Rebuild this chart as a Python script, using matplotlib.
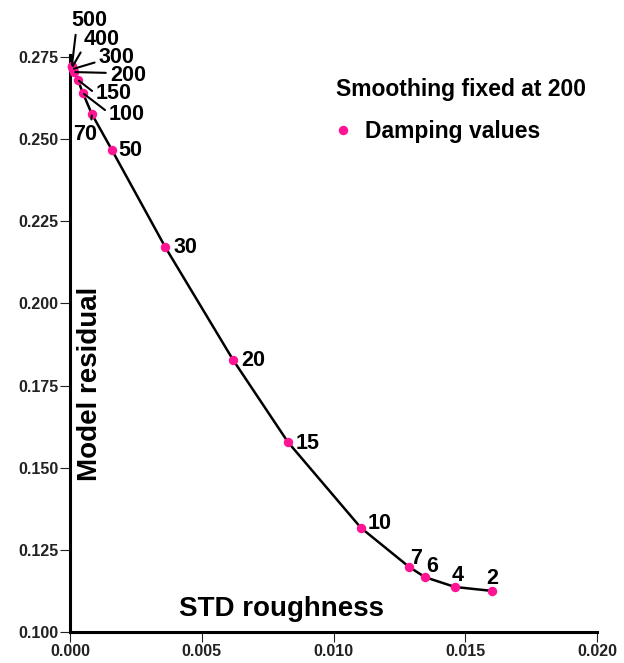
import matplotlib
matplotlib.use("Agg")
import matplotlib.pyplot as plt
from matplotlib.lines import Line2D

plt.rcParams['font.family'] = ['Liberation Sans', 'DejaVu Sans']
plt.rcParams['font.weight'] = 'bold'

# ---- data ----
damping = [500, 400, 300, 200, 150, 100, 70, 50, 30, 20, 15, 10, 7, 6, 4, 2]
std_roughness = [0.00007, 0.00008, 0.00010, 0.00015, 0.00030, 0.00049, 0.00083,
                 0.00159, 0.00361, 0.00619, 0.00827, 0.01104, 0.01287, 0.01347,
                 0.01461, 0.01602]
model_residual = [0.2722, 0.2719, 0.2713, 0.2704, 0.2680, 0.2640, 0.2576,
                  0.2467, 0.2172, 0.1828, 0.1578, 0.1317, 0.1198, 0.1167,
                  0.1137, 0.1125]
x_ticks = [0.000, 0.005, 0.010, 0.015, 0.020]
x_ticklabels = ['0.000', '0.005', '0.010', '0.015', '0.020']
y_ticks = [0.100, 0.125, 0.150, 0.175, 0.200, 0.225, 0.250, 0.275]
y_ticklabels = ['0.100', '0.125', '0.150', '0.175', '0.200', '0.225', '0.250', '0.275']
title_text = 'Smoothing fixed at 200'
legend_label = 'Damping values'

# label placement (offset pixels of label centre from point, leader relpos or None)
label_style = {
    500: ((17, 46), (0.15, 0.05)),
    400: ((30, 28), (0.0, 0.15)),
    300: ((44, 12), (0.0, 0.3)),
    200: ((54, -3), (0.0, 0.6)),
    150: ((36, -14), (0.0, 0.5)),
    100: ((44, -21), (0.0, 0.55)),
    70: ((-7, -20), (0.75, 0.9)),
    50: ((18, -1), None),
    30: ((20, -1), None),
    20: ((20, -1), None),
    15: ((20, -1), None),
    10: ((19, 4), None),
    7: ((7, 8), None),
    6: ((7, 11), None),
    4: ((3, 11), None),
    2: ((0, 12), None),
}

PINK = '#ff1493'

fig = plt.figure(figsize=(6.24, 6.63), dpi=100)
ax = fig.add_axes([70 / 624, 1 - 632 / 663, 527 / 624, (632 - 55.3) / 663])

ax.plot(std_roughness, model_residual, color='black', lw=1.8, zorder=2)
ax.plot(std_roughness, model_residual, linestyle='none', marker='o',
        markersize=6.8, color=PINK, markeredgewidth=0, zorder=3, clip_on=False)

for d, xv, yv in zip(damping, std_roughness, model_residual):
    (dx, dy), rel = label_style[d]
    kw = {}
    if rel is not None:
        kw['arrowprops'] = dict(arrowstyle='-', color='black', lw=1.5,
                                shrinkA=1, shrinkB=1, relpos=rel)
    ax.annotate(str(d), xy=(xv, yv), xytext=(dx, dy), textcoords='offset pixels',
                ha='center', va='center', fontsize=15.5, fontweight='bold',
                annotation_clip=False, **kw)

ax.set_xlim(0, 0.020)
ax.set_ylim(0.100, 0.2755)
ax.set_xticks(x_ticks)
ax.set_xticklabels(x_ticklabels)
ax.set_yticks(y_ticks)
ax.set_yticklabels(y_ticklabels)
ax.tick_params(direction='out', length=7.5, width=0.8, pad=1, labelsize=11.5,
               colors='#222222')
for lab in ax.get_xticklabels() + ax.get_yticklabels():
    lab.set_fontweight('bold')

for s in ['top', 'right']:
    ax.spines[s].set_visible(False)
for s in ['left', 'bottom']:
    ax.spines[s].set_linewidth(2.2)

ax.set_xlabel('STD roughness', fontsize=20, fontweight='bold', va='center', ha='center')
ax.xaxis.set_label_coords(0.402, 0.04)
ax.set_ylabel('Model residual', fontsize=20, fontweight='bold', va='center', ha='center')
ax.yaxis.set_label_coords(0.038, 0.43)

handle = Line2D([], [], linestyle='none', marker='o', markersize=6.8,
                color=PINK, markeredgewidth=0)
leg = ax.legend([handle], [legend_label], title=title_text, frameon=False,
                loc='upper left', bbox_to_anchor=(336 / 624, 1 - 78 / 663),
                bbox_transform=fig.transFigure, borderpad=0, borderaxespad=0,
                handlelength=0.6, handletextpad=0.65, labelspacing=0.85,
                prop={'size': 16.5, 'weight': 'bold'}, alignment='left')
leg.get_title().set_fontsize(16.5)
leg.get_title().set_fontweight('bold')

fig.savefig('out.png', dpi=100)
